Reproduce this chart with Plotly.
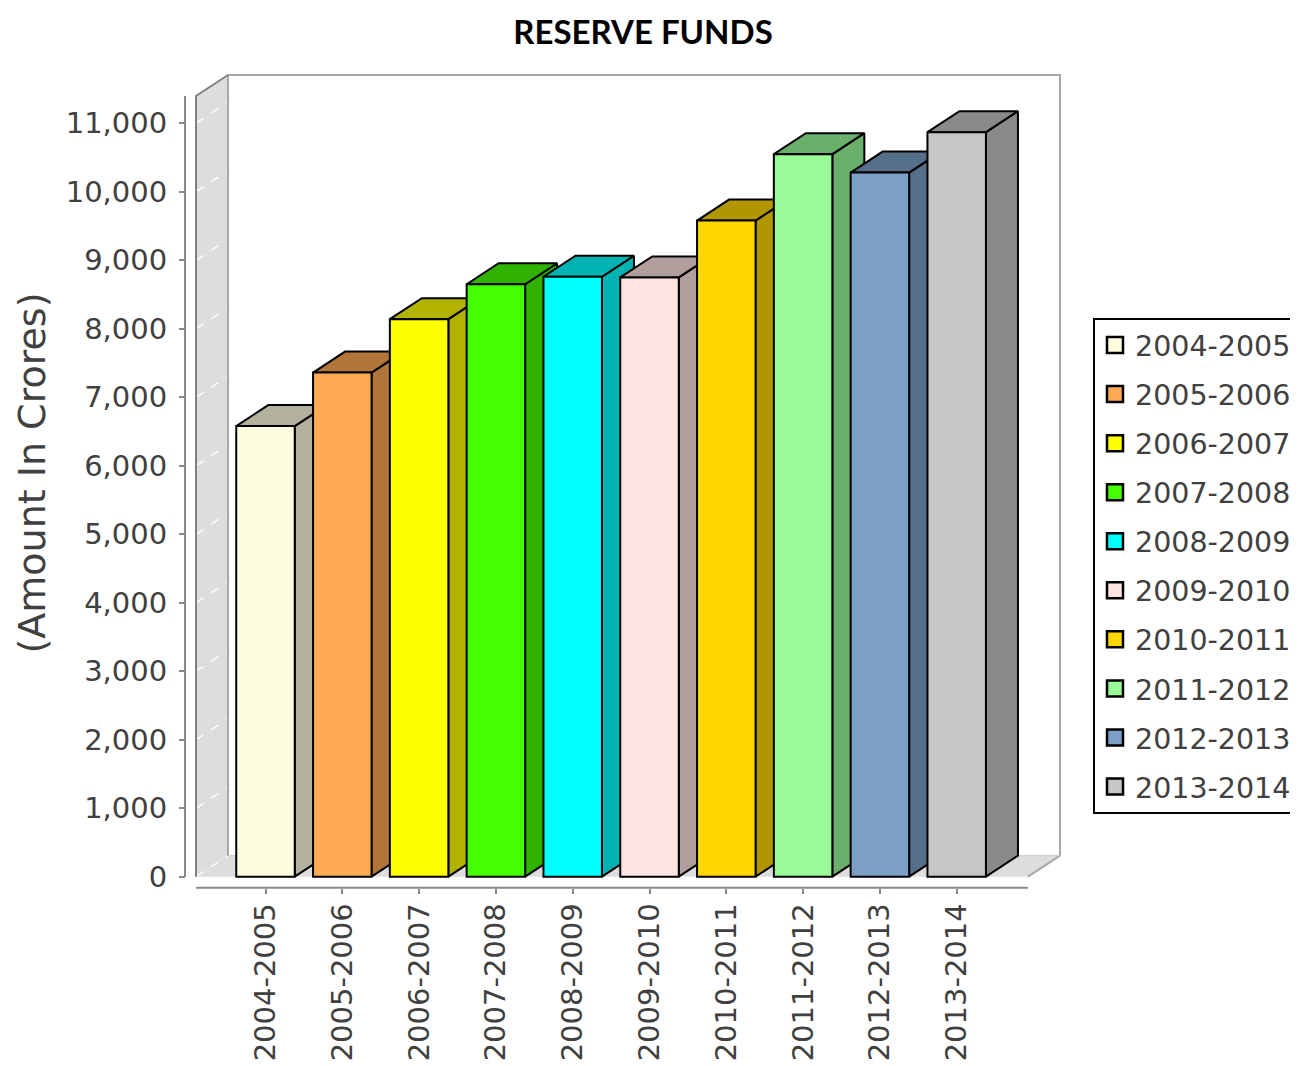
import plotly.graph_objects as go

# ---------------- data ----------------
categories = ["2004-2005", "2005-2006", "2006-2007", "2007-2008", "2008-2009",
              "2009-2010", "2010-2011", "2011-2012", "2012-2013", "2013-2014"]
values = [6580, 7360, 8140, 8650, 8760, 8750, 9580, 10550, 10280, 10870]
y_ticks = [0, 1000, 2000, 3000, 4000, 5000, 6000, 7000, 8000, 9000, 10000, 11000]
y_tick_labels = ["0", "1,000", "2,000", "3,000", "4,000", "5,000", "6,000",
                 "7,000", "8,000", "9,000", "10,000", "11,000"]

front_colors = ["#FFFDE0", "#FFAA55", "#FFFF00", "#44FF00", "#00FFFF",
                "#FFE4E1", "#FFD700", "#98FB98", "#7B9FC5", "#C6C6C6"]

def darker(hexcol, f=0.7):
    h = hexcol.lstrip("#")
    r, g, b = (int(h[i:i + 2], 16) for i in (0, 2, 4))
    return "rgb(%d,%d,%d)" % (int(r * f), int(g * f), int(b * f))

side_colors = [darker(c) for c in front_colors]

# ---------------- geometry (screen pixels) ----------------
SW, SH = 1298, 1066          # window
OFF = 8                       # page body margin
FW, FH = SW - OFF, SH - OFF   # figure size
PL, PR, PT, PB = 100, 1066, 70, 890
X_DOM0 = 190
CAT0_PX, CAT_STEP_PX = 265.5, 76.8
ZERO_PX, PX_PER_Y = 876.7, 68.49 / 1000.0
DEPTH_X_PX, DEPTH_Y_PX = 32, 21
BAR_W_PX = 58.5
LEFT_FRONT_PX, TOP_FRONT_PX, RIGHT_BACK_PX = 196, 96, 1060
AXIS_LINE_PX, CAT_AXIS_PX = 185, 887.7


def px_to_x(px):
    return (px - CAT0_PX) / CAT_STEP_PX


def py_to_v(py):
    return (ZERO_PX - py) / PX_PER_Y


xr = [px_to_x(X_DOM0), px_to_x(PR)]
yr = [py_to_v(PB), py_to_v(PT)]
dx = DEPTH_X_PX / CAT_STEP_PX
dy = DEPTH_Y_PX / PX_PER_Y
hw = BAR_W_PX / 2 / CAT_STEP_PX
xmin = px_to_x(LEFT_FRONT_PX)
xmax = px_to_x(RIGHT_BACK_PX)
xfr = xmax - dx
vtop = py_to_v(TOP_FRONT_PX)
WALL = "#DDDDDD"
FONT = "DejaVu Sans"
TXT = "#404040"

fig = go.Figure()

# walls
fig.add_trace(go.Scatter(x=[xmin, xmin, xmin + dx, xmin + dx, xmin],
                         y=[0, vtop, vtop + dy, dy, 0], fill="toself",
                         fillcolor=WALL, line=dict(width=0), mode="lines",
                         hoverinfo="skip", showlegend=False))
fig.add_trace(go.Scatter(x=[xmin, xfr, xfr + dx, xmin + dx, xmin],
                         y=[0, 0, dy, dy, 0], fill="toself",
                         fillcolor=WALL, line=dict(width=0), mode="lines",
                         hoverinfo="skip", showlegend=False))
# gridlines on left wall
gx, gy = [], []
for t in y_ticks:
    gx += [xmin, xmin + dx, None]
    gy += [t, t + dy, None]
fig.add_trace(go.Scatter(x=gx, y=gy, mode="lines",
                         line=dict(color="rgba(255,255,255,0.9)", width=1.5, dash="dash"),
                         hoverinfo="skip", showlegend=False))
# back wall outline
fig.add_trace(go.Scatter(x=[xmin + dx, xmin + dx, xmax, xmax, xfr],
                         y=[dy, vtop + dy, vtop + dy, dy, 0], mode="lines",
                         line=dict(color="#A8A8A8", width=2),
                         hoverinfo="skip", showlegend=False))
fig.add_trace(go.Scatter(x=[xmin + dx, xmax],
                         y=[dy, dy], mode="lines",
                         line=dict(color="#C8C8C8", width=1),
                         hoverinfo="skip", showlegend=False))
# left wall outline
fig.add_trace(go.Scatter(x=[xmin, xmin, xmin + dx],
                         y=[0, vtop, vtop + dy], mode="lines",
                         line=dict(color="#808080", width=2),
                         hoverinfo="skip", showlegend=False))

# 3D side and top faces
for i, v in enumerate(values):
    xl, xrr = i - hw, i + hw
    fig.add_trace(go.Scatter(x=[xrr, xrr + dx, xrr + dx, xrr, xrr],
                             y=[0, dy, v + dy, v, 0], fill="toself",
                             fillcolor=side_colors[i], mode="lines",
                             line=dict(color="black", width=2),
                             hoverinfo="skip", showlegend=False))
    fig.add_trace(go.Scatter(x=[xl, xl + dx, xrr + dx, xrr, xl],
                             y=[v, v + dy, v + dy, v, v], fill="toself",
                             fillcolor=side_colors[i], mode="lines",
                             line=dict(color="black", width=2),
                             hoverinfo="skip", showlegend=False))

# front faces (bars) on overlay axes
for i, (c, v) in enumerate(zip(categories, values)):
    fig.add_trace(go.Bar(x=[i], y=[v], width=BAR_W_PX / CAT_STEP_PX,
                         marker=dict(color=front_colors[i], line=dict(color="black", width=2)),
                         name=c, xaxis="x2", yaxis="y2", showlegend=False))

# legend entries
for i, c in enumerate(categories):
    fig.add_trace(go.Scatter(x=[None], y=[None], mode="markers", name=c,
                             legendgroup=c,
                             marker=dict(symbol="square", size=16, color=front_colors[i],
                                         line=dict(color="black", width=2.5))))

dom0 = (X_DOM0 - PL) / (PR - PL)
fig.update_layout(
    width=FW, height=FH,
    paper_bgcolor="white", plot_bgcolor="rgba(0,0,0,0)",
    margin=dict(l=PL - OFF, r=SW - PR, t=PT - OFF, b=SH - PB, autoexpand=False),
    barmode="overlay",
    title=dict(text="<b>RESERVE FUNDS</b>", x=(643 - OFF) / FW, xanchor="center",
               y=1 - (32 - OFF) / FH, yanchor="middle", yref="container",
               font=dict(family="Lato", size=33, color="black")),
    xaxis=dict(domain=[dom0, 1], range=xr, tickvals=list(range(len(categories))),
               ticktext=categories, tickangle=-90, ticks="outside", ticklen=5,
               tickwidth=1.5, tickcolor="#888888", showgrid=False, zeroline=False,
               showline=False, anchor="free",
               position=(PB - CAT_AXIS_PX) / (PB - PT),
               tickfont=dict(family=FONT, size=29, color=TXT),
               ticklabelstandoff=-2, fixedrange=True),
    yaxis=dict(domain=[0, 1], range=yr, tickvals=y_ticks, ticktext=y_tick_labels,
               ticks="outside", ticklen=6, tickwidth=2, tickcolor="#888888",
               showgrid=False, zeroline=False, showline=False, anchor="free",
               position=(AXIS_LINE_PX - PL) / (PR - PL),
               tickfont=dict(family=FONT, size=29, color=TXT),
               ticklabelstandoff=6, fixedrange=True),
    xaxis2=dict(overlaying="x", range=xr, visible=False, anchor="y2", fixedrange=True),
    yaxis2=dict(overlaying="y", range=yr, visible=False, anchor="x2", fixedrange=True),
    legend=dict(x=(1093 - PL) / (PR - PL), y=(PB - 318) / (PB - PT),
                xanchor="left", yanchor="top", bgcolor="white",
                bordercolor="black", borderwidth=2, tracegroupgap=9,
                font=dict(family=FONT, size=28.5, color=TXT)),
    showlegend=True,
    annotations=[dict(text="(Amount In Crores)", textangle=-90, showarrow=False,
                      xref="paper", yref="paper", x=(31 - PL) / (PR - PL),
                      y=(PB - 473.5) / (PB - PT), xanchor="center", yanchor="middle",
                      font=dict(family=FONT, size=38, color=TXT))],
    shapes=[
        dict(type="line", xref="paper", yref="y",
             x0=(AXIS_LINE_PX - PL) / (PR - PL), x1=(AXIS_LINE_PX - PL) / (PR - PL),
             y0=0, y1=vtop, line=dict(color="#888888", width=2)),
        dict(type="line", xref="x", yref="y", x0=xmin, x1=xfr,
             y0=py_to_v(CAT_AXIS_PX), y1=py_to_v(CAT_AXIS_PX),
             line=dict(color="#888888", width=2)),
    ],
)

fig.write_html("out.html")
